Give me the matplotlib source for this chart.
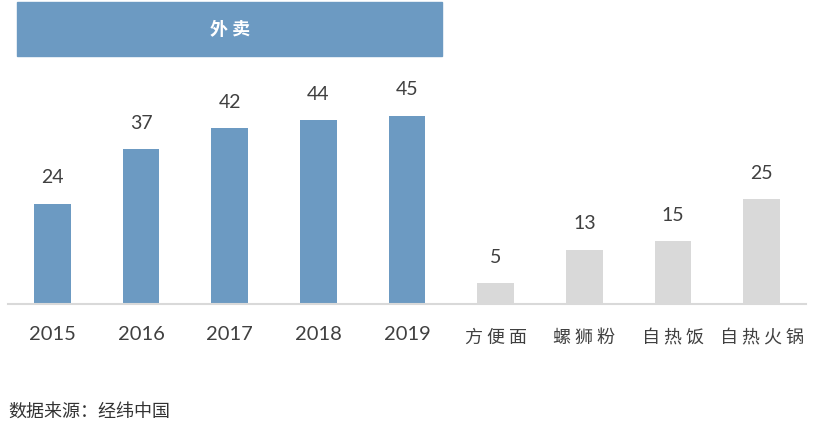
import numpy as np
import matplotlib.pyplot as plt
from matplotlib.patches import Rectangle

plt.rcParams['font.family'] = ['Lato', 'Noto Sans CJK SC', 'DejaVu Sans']

years = ['2015', '2016', '2017', '2018', '2019']
takeout = [24, 37, 42, 44, 45]
products = ['方 便 面', '螺 狮 粉', '自 热 饭', '自 热 火 锅']
product_vals = [5, 13, 15, 25]
header_text = '外 卖'
source_text = '数据来源：经纬中国'

BLUE = '#6C9AC2'
GRAY = '#D9D9D9'
TXT = '#404040'

fig = plt.figure(figsize=(8.15, 4.24), dpi=100)
ax = fig.add_axes([8/815, 120/424, 798/815, 304/424])

x1 = np.arange(len(years))
x2 = np.arange(len(products)) + len(years)
ax.bar(x1, takeout, width=0.41, color=BLUE)
ax.bar(x2, product_vals, width=0.41, color=GRAY)

for x, v in zip(x1, takeout):
    ax.annotate(str(v), (x, v), xytext=(0, 26), textcoords='offset pixels',
                ha='center', va='center', fontsize=14, color=TXT)
for x, v in zip(x2, product_vals):
    ax.annotate(str(v), (x, v), xytext=(0, 26), textcoords='offset pixels',
                ha='center', va='center', fontsize=14, color=TXT)

# header band over the takeout years
ax.add_patch(Rectangle((-0.4, 59.2), 4.8, 13.0, color=BLUE, clip_on=False))
ax.text(2.0, 65.7, header_text, ha='center', va='center', fontsize=13,
        color='white', fontweight='bold', family=['Noto Sans CJK SC'])

ax.set_xlim(-0.5, 8.5)
ax.set_ylim(0, 72.7)
ax.set_xticks(list(x1) + list(x2))
ax.set_xticklabels(years + products)
for lbl in ax.get_xticklabels()[len(years):]:
    lbl.set_family(['Noto Sans CJK SC'])
    lbl.set_fontsize(13)
    lbl.set_y(-0.01)
for lbl in ax.get_xticklabels()[:len(years)]:
    lbl.set_fontsize(14.5)
ax.tick_params(axis='x', length=0, pad=16, colors=TXT)
ax.set_yticks([])
for s in ['top', 'right', 'left']:
    ax.spines[s].set_visible(False)
ax.spines['bottom'].set_color(GRAY)
ax.spines['bottom'].set_linewidth(1.5)

fig.text(8/815, 1 - 412/424, source_text, ha='left', va='center',
         fontsize=13, color='#333333', family=['Noto Sans CJK SC'])

fig.savefig('out.png', dpi=100)
